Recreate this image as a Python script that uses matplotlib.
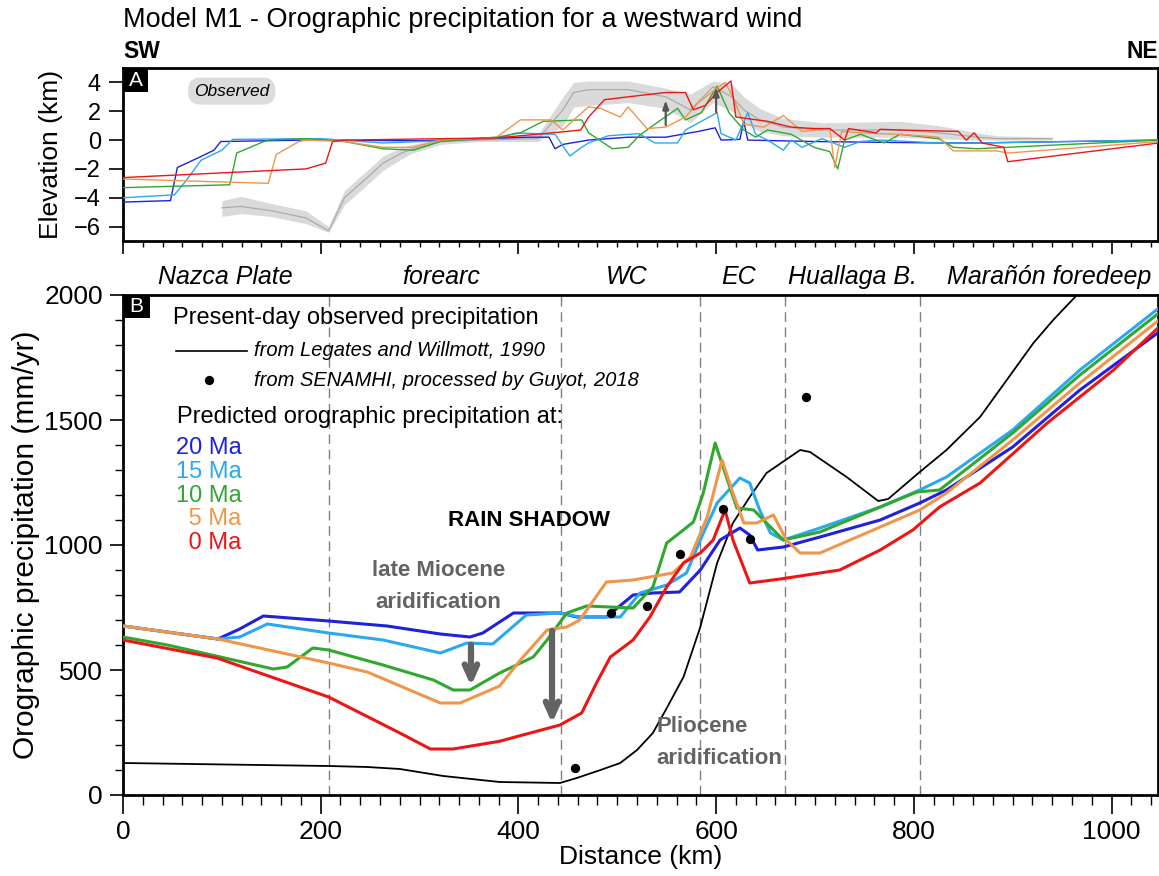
import matplotlib
matplotlib.use("Agg")
import matplotlib.pyplot as plt
import matplotlib.patches as patches
import matplotlib.transforms as mtransforms
from matplotlib.ticker import MultipleLocator

plt.rcParams["font.family"] = ["Liberation Sans", "DejaVu Sans"]

# Couleurs des modeles (20, 15, 10, 5, 0 Ma)
ages = ["20 Ma", "15 Ma", "10 Ma", " 5 Ma", " 0 Ma"]
colors = ["#2020dd", "#2aa8f0", "#30a830", "#f0964a", "#ee1515"]

# ---- Panneau A : elevation (km) ----
obs_km = [100, 119, 150, 185, 208, 224, 247, 263, 282, 293, 321, 360, 420, 445, 456,
          471, 511, 549, 574, 597, 616, 628, 644, 668, 707, 786, 825, 865, 884, 940]
obs_mean = [-4.7, -4.6, -4.9, -5.4, -6.3, -4.0, -2.6, -1.6, -0.9, -0.6, -0.1, 0.0, 0.1, 2.1, 3.3,
            3.5, 3.5, 3.0, 2.1, 3.7, 3.0, 2.1, 1.4, 0.9, 0.7, 0.7, 0.5, 0.2, 0.1, 0.1]
obs_hi = [-4.2, -3.9, -4.4, -4.9, -6.0, -3.5, -2.1, -1.1, -0.5, -0.3, 0.1, 0.2, 0.4, 3.0, 4.0,
          4.1, 4.1, 3.6, 3.2, 4.1, 3.9, 3.0, 2.2, 1.5, 1.2, 1.3, 1.0, 0.5, 0.3, 0.2]
obs_lo = [-5.3, -5.1, -5.3, -5.8, -6.4, -4.5, -3.1, -2.1, -1.3, -0.9, -0.3, -0.1, -0.1, 1.0, 2.3,
          2.4, 2.6, 2.2, 1.2, 2.6, 2.0, 1.2, 0.6, 0.3, 0.2, 0.2, 0.1, 0.0, 0.0, 0.0]

topo_km_20 = [0, 48, 55, 77, 92, 99, 185, 300, 410, 431, 437, 445, 471, 511, 549, 582, 599,
              605, 624, 628, 632, 700, 825, 864, 1048]
topo_20 = [-4.3, -4.2, -1.9, -1.2, -0.7, -0.1, 0.0, -0.05, 0.2, 0.2, -0.6, -0.3, 0.0, 0.2, 0.2,
           0.6, 0.85, 0.0, 0.05, 1.3, 0.0, -0.1, -0.2, -0.2, 0.0]
topo_km_15 = [0, 52, 64, 79, 100, 111, 200, 263, 378, 398, 437, 452, 464, 471, 491, 522, 538,
              561, 569, 601, 605, 620, 632, 640, 652, 668, 676, 687, 707, 730, 746, 766, 825,
              864, 1048]
topo_15 = [-4.0, -3.8, -2.8, -1.4, -0.7, 0.05, 0.1, -0.2, 0.1, 0.5, 0.4, -1.1, -0.5, -0.2, 0.3,
           0.45, -0.2, -0.2, 0.7, 1.9, 0.45, 0.0, 1.9, 0.4, 0.0, -0.7, 0.0, -0.5, 0.1, -0.5,
           -0.1, 0.0, -0.2, -0.2, 0.0]
topo_km_10 = [0, 108, 115, 139, 147, 185, 224, 263, 294, 321, 378, 402, 425, 464, 471, 495,
              511, 522, 538, 561, 569, 585, 601, 613, 628, 640, 652, 676, 699, 715, 723, 730,
              746, 770, 786, 825, 840, 864, 1048]
topo_10 = [-3.3, -3.1, -0.9, -0.2, 0.0, 0.1, -0.1, -0.6, -0.7, -0.1, 0.2, 0.5, 1.3, 1.4, 0.5,
           -0.6, -0.5, 0.3, 1.1, 2.2, 1.4, 1.9, 3.75, 1.9, 0.7, 0.2, 0.7, 0.4, -0.5, -0.8,
           -2.0, 0.0, 0.4, -0.2, 0.4, 0.1, -0.5, -0.6, 0.0]
topo_km_5 = [0, 147, 155, 178, 185, 224, 263, 293, 321, 378, 402, 433, 445, 456, 471, 483,
             503, 511, 530, 549, 569, 582, 597, 609, 617, 628, 648, 668, 687, 715, 720, 727,
             746, 786, 825, 840, 884, 895, 1048]
topo_5 = [-2.7, -3.0, -1.0, -0.1, 0.0, -0.1, -0.5, -0.5, 0.0, 0.2, 1.4, 1.4, 0.7, 1.4, 2.3,
          2.2, 1.6, 2.3, 0.8, 0.9, 1.6, 2.6, 3.4, 4.0, 3.0, 1.1, 0.9, 1.7, 0.6, 0.8, -1.9,
          0.6, 0.5, 0.4, 0.2, -0.75, -0.75, -0.9, -0.1]
topo_km_0 = [0, 185, 205, 212, 224, 378, 418, 449, 463, 471, 487, 511, 549, 569, 577, 589,
             601, 615, 620, 652, 676, 699, 715, 730, 734, 762, 766, 786, 845, 853, 861, 869,
             891, 895, 1048]
topo_0 = [-2.6, -2.0, -1.6, -0.1, 0.0, 0.15, 0.4, 0.6, 0.7, 1.6, 2.8, 3.0, 3.3, 3.3, 2.1, 2.4,
          3.3, 4.1, 1.6, 1.3, 0.9, 0.8, 0.8, 0.0, 0.8, 0.5, 0.75, 0.7, 0.6, 0.0, 0.5, -0.2,
          -0.5, -1.5, -0.2]

# ---- Panneau B : precipitation (mm/an) ----
prec_km_20 = [0, 96, 118, 142, 208, 267, 321, 351, 364, 381, 395, 442, 459, 489, 516, 536,
              563, 584, 604, 624, 634, 642, 668, 705, 766, 806, 833, 900, 968, 1048]
prec_20 = [676, 624, 664, 716, 696, 676, 644, 632, 648, 692, 728, 728, 712, 712, 800, 808,
           812, 900, 1020, 1068, 1040, 980, 992, 1032, 1100, 1168, 1220, 1392, 1620, 1852]
prec_km_15 = [0, 96, 118, 146, 208, 263, 321, 348, 374, 408, 442, 462, 503, 523, 550, 570,
              584, 601, 624, 634, 644, 655, 668, 705, 766, 806, 833, 900, 968, 1048]
prec_15 = [676, 624, 632, 684, 648, 620, 568, 608, 604, 720, 728, 712, 712, 808, 840, 888,
           1020, 1168, 1268, 1248, 1140, 1048, 1020, 1068, 1152, 1220, 1272, 1460, 1700, 1948]
prec_km_10 = [0, 45, 152, 166, 192, 208, 263, 314, 334, 351, 381, 415, 429, 449, 469, 516,
              536, 550, 563, 577, 587, 599, 607, 621, 638, 651, 668, 705, 766, 803, 826, 900,
              968, 1048]
prec_10 = [632, 600, 504, 512, 588, 580, 520, 460, 420, 420, 488, 552, 620, 728, 756, 748,
           832, 1008, 1048, 1092, 1208, 1408, 1312, 1148, 1140, 1088, 1020, 1052, 1152, 1212,
           1220, 1448, 1680, 1928]
prec_km_5 = [0, 96, 208, 247, 321, 341, 381, 402, 429, 449, 462, 489, 516, 556, 574, 591,
             606, 617, 628, 641, 658, 671, 685, 705, 766, 806, 833, 900, 968, 1048]
prec_5 = [676, 624, 528, 492, 368, 368, 436, 540, 660, 672, 700, 852, 860, 888, 952, 1112,
          1340, 1208, 1088, 1088, 1120, 1020, 968, 968, 1072, 1140, 1208, 1420, 1648, 1900]
prec_km_0 = [0, 95, 208, 280, 311, 334, 381, 442, 464, 479, 493, 516, 533, 550, 567, 584,
             597, 609, 617, 634, 665, 725, 766, 799, 826, 867, 935, 1002, 1048]
prec_0 = [620, 548, 392, 248, 184, 184, 215, 280, 328, 448, 552, 620, 712, 832, 928, 968,
          1020, 1140, 1020, 848, 864, 900, 980, 1060, 1152, 1248, 1488, 1700, 1872]

legates_km = [0, 208, 247, 280, 324, 381, 442, 459, 483, 503, 520, 536, 549, 567, 584, 601,
              617, 634, 651, 685, 695, 732, 764, 774, 806, 833, 867, 894, 921, 941, 965, 1000]
legates = [128, 116, 112, 104, 76, 52, 48, 68, 100, 128, 180, 248, 340, 472, 672, 928,
           1088, 1192, 1288, 1380, 1372, 1272, 1176, 1184, 1292, 1380, 1512, 1660, 1808,
           1900, 2000, 2150]

senamhi_km = [457, 494, 530, 563, 607, 634, 691]
senamhi = [108, 728, 756, 964, 1144, 1024, 1592]

boundaries_km = [208, 443, 584, 670, 806]
regions = ["Nazca Plate", "forearc", "WC", "EC", "Huallaga B.", "Marañón foredeep"]
regions_km = [103, 322, 510, 623, 738, 937]

topo = [(topo_km_20, topo_20), (topo_km_15, topo_15), (topo_km_10, topo_10),
        (topo_km_5, topo_5), (topo_km_0, topo_0)]
prec = [(prec_km_20, prec_20), (prec_km_15, prec_15), (prec_km_10, prec_10),
        (prec_km_5, prec_5), (prec_km_0, prec_0)]

W, H = 1159, 876
fig = plt.figure(figsize=(W / 100, H / 100), dpi=100)
ax_a = fig.add_axes([123 / W, 1 - 241 / H, 1035 / W, 173 / H])
ax_b = fig.add_axes([123 / W, 1 - 795 / H, 1035 / W, 500 / H])

grey = "#636363"

# Panneau A
ax_a.fill_between(obs_km, obs_lo, obs_hi, color="#dadada", lw=0, zorder=1)
ax_a.plot(obs_km, obs_mean, color="#ababab", lw=0.9, zorder=2)
for (xs, ys), c in zip(topo, colors):
    ax_a.plot(xs, ys, color=c, lw=1.0, zorder=3)
for x0, y0, y1 in [(549, 0.85, 2.95), (600, 1.75, 3.85)]:
    ax_a.annotate("", xy=(x0, y1), xytext=(x0, y0),
                  arrowprops=dict(arrowstyle="-|>,head_length=0.5,head_width=0.18",
                                  lw=1.6, color="#555555"), zorder=5)
ax_a.text(110, 3.4, "Observed", style="italic", fontsize=12.5, ha="center", va="center",
          bbox=dict(boxstyle="round,pad=0.35,rounding_size=0.75", fc="#dcdcdc", ec="none"))
ax_a.set_xlim(0, 1047)
ax_a.set_ylim(-7, 5)
ax_a.set_yticks([-6, -4, -2, 0, 2, 4])
ax_a.set_yticklabels(["\u22126", "\u22124", "\u22122", "0", "2", "4"])
ax_a.xaxis.set_major_locator(MultipleLocator(200))
ax_a.xaxis.set_minor_locator(MultipleLocator(20))
ax_a.tick_params(axis="x", which="major", direction="out", length=9, width=1.2, labelbottom=False)
ax_a.tick_params(axis="x", which="minor", direction="out", length=4.5, width=1.0)
ax_a.tick_params(axis="y", direction="out", length=10, width=1.2, labelsize=17, pad=6)
ax_a.set_ylabel("Elevation (km)", fontsize=19, labelpad=8)

# Panneau B
for x in boundaries_km:
    ax_b.axvline(x, color="#808080", lw=1.0, ls=(0, (7, 4)), zorder=1)
ax_b.plot(legates_km, legates, color="black", lw=1.3, zorder=3)
for (xs, ys), c in zip(prec, colors):
    ax_b.plot(xs, ys, color=c, lw=2.2, zorder=4)
ax_b.scatter(senamhi_km, senamhi, s=45, color="black", zorder=6, lw=0)

for x0, y0, y1 in [(352, 612, 425), (434, 668, 276)]:
    ax_b.annotate("", xy=(x0, y1), xytext=(x0, y0),
                  arrowprops=dict(arrowstyle="->,head_length=1.0,head_width=0.45",
                                  lw=4.5, color=grey), zorder=5)

ax_b.text(319, 900, "late Miocene", color=grey, weight="bold", fontsize=16,
          ha="center", va="center")
ax_b.text(319, 768, "aridification", color=grey, weight="bold", fontsize=16,
          ha="center", va="center")
ax_b.text(540, 272, "Pliocene", color=grey, weight="bold", fontsize=16, ha="left", va="center")
ax_b.text(540, 144, "aridification", color=grey, weight="bold", fontsize=16,
          ha="left", va="center")
ax_b.text(411, 1100, "RAIN SHADOW", weight="bold", fontsize=16, ha="center", va="center")

# legende en texte libre
tb = ax_b.transAxes
ax_b.text(0.048, 0.954, "Present-day observed precipitation", transform=tb, fontsize=17,
          va="center")
ax_b.plot([0.0512, 0.1198], [0.888, 0.888], color="black", lw=1.2, transform=tb)
ax_b.scatter([0.0831], [0.83], s=45, color="black", lw=0, transform=tb)
ax_b.text(0.1266, 0.888, "from Legates and Willmott, 1990", style="italic", fontsize=14.5,
          transform=tb, va="center")
ax_b.text(0.1266, 0.83, "from SENAMHI, processed by Guyot, 2018", style="italic",
          fontsize=14.5, transform=tb, va="center")
ax_b.text(0.052, 0.756, "Predicted orographic precipitation at:", transform=tb, fontsize=17,
          va="center")
for i, (lab, c) in enumerate(zip(ages, colors)):
    ax_b.text(0.1145, 0.694 - i * 0.0475, lab, color=c, fontsize=17, transform=tb,
              ha="right", va="center")

# noms des domaines au-dessus du panneau B
tr = mtransforms.blended_transform_factory(ax_b.transData, ax_b.transAxes)
for name, xk in zip(regions, regions_km):
    ax_b.text(xk, 1.036, name, style="italic", fontsize=18, ha="center", va="center",
              transform=tr)

ax_b.set_xlim(0, 1047)
ax_b.set_ylim(0, 2000)
ax_b.xaxis.set_major_locator(MultipleLocator(200))
ax_b.xaxis.set_minor_locator(MultipleLocator(20))
ax_b.yaxis.set_major_locator(MultipleLocator(500))
ax_b.yaxis.set_minor_locator(MultipleLocator(100))
ax_b.tick_params(axis="x", which="major", direction="out", length=14, width=1.2,
                 labelsize=19, pad=4)
ax_b.tick_params(axis="x", which="minor", direction="out", length=7, width=1.0)
ax_b.tick_params(axis="y", which="major", direction="out", length=9.5, width=1.2,
                 labelsize=19, pad=5)
ax_b.tick_params(axis="y", which="minor", direction="out", length=5.5, width=1.0)
ax_b.set_xlabel("Distance (km)", fontsize=19, labelpad=1)
ax_b.set_ylabel("Orographic precipitation (mm/yr)", fontsize=21.5, labelpad=3)

for ax, lab, bw, bh in [(ax_a, "A", 25 / 1035, 24 / 173), (ax_b, "B", 27 / 1035, 23 / 500)]:
    for s in ax.spines.values():
        s.set_linewidth(2.0)
    ax.add_patch(patches.Rectangle((0, 1 - bh), bw, bh, transform=ax.transAxes,
                                   fc="black", ec="none", zorder=10, clip_on=False))
    ax.text(bw / 2, 1 - bh / 2, lab, transform=ax.transAxes, color="white", fontsize=15,
            ha="center", va="center", zorder=11)

fig.text(123 / W, 1 - 20 / H, "Model M1 - Orographic precipitation for a westward wind",
         fontsize=19.5, ha="left", va="center")
fig.text(123 / W, 1 - 51 / H, "SW", fontsize=16.5, weight="bold", ha="left", va="center")
fig.text(1158 / W, 1 - 51 / H, "NE", fontsize=16.5, weight="bold", ha="right", va="center")

fig.savefig("out.png", dpi=100)
